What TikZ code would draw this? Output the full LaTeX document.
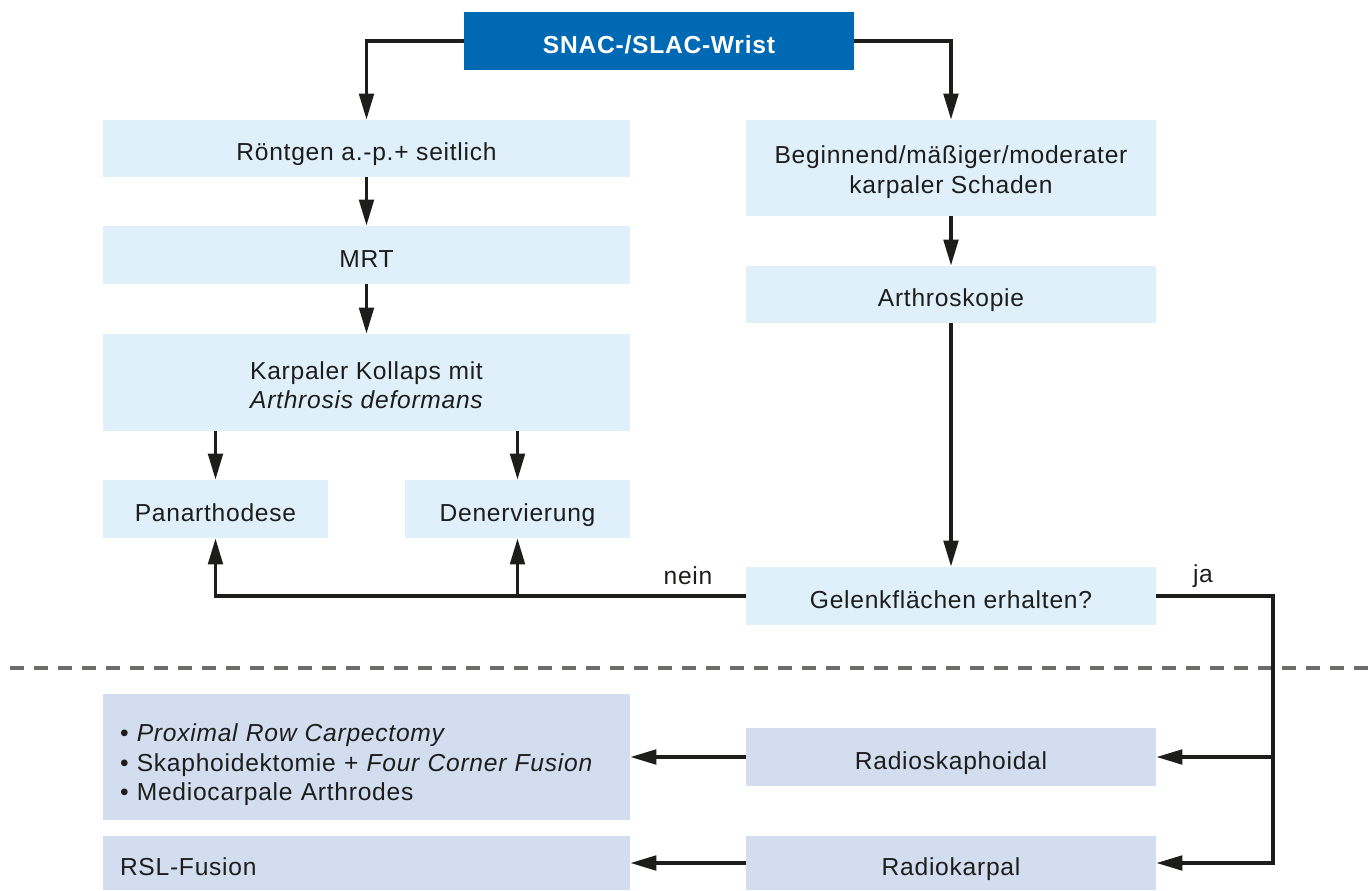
\documentclass[tikz,border=0pt]{standalone}
\usepackage{fontspec}
\setmainfont[LetterSpace=3]{Liberation Sans}
\usetikzlibrary{arrows.meta}
\definecolor{kopfblau}{HTML}{0069B4}
\definecolor{hellblau}{HTML}{E0F0FB}
\definecolor{graublau}{HTML}{D2DDF0}
\definecolor{strich}{HTML}{1D1D1B}
\tikzset{
  box/.style={fill=hellblau, inner sep=0pt, text=strich, align=center, minimum height=1.16cm},
  einzeilig/.style={text height=0.48cm, text depth=0pt},
  unten/.style={box, fill=graublau},
  pfeil/.style={draw=strich, line width=2pt, -{Triangle[length=5.2mm,width=2.9mm]}},
}
\begin{document}
\begin{tikzpicture}[font=\fontsize{14}{16.8}\selectfont, line join=miter]
		\useasboundingbox (0,0) rectangle (27.38,-17.8);
		% Kopf
		\node (top) at (13.18,-0.82) [box, einzeilig, fill=kopfblau, text=white, minimum width=7.8cm]{\bfseries SNAC-/SLAC-Wrist};
		% linke Spalte
		\node (rtg) at (7.33,-2.97) [box, einzeilig, minimum width=10.54cm, minimum height=1.14cm]{R\"ontgen a.-p.+ seitlich};
		\node (mrt) at (7.33,-5.10) [box, einzeilig, minimum width=10.54cm]{MRT};
		\node (kol) at (7.33,-7.65) [box, minimum width=10.54cm, minimum height=1.94cm]{\rule{0pt}{0.46cm}Karpaler Kollaps mit\\\itshape Arthrosis deformans};
		\node (pan) at (4.31,-10.18) [box, einzeilig, minimum width=4.5cm]{Panarthodese};
		\node (den) at (10.35,-10.18) [box, einzeilig, minimum width=4.5cm]{Denervierung};
		% rechte Spalte
		\node (beg) at (19.02,-3.36) [box, minimum width=8.2cm, minimum height=1.92cm]{\rule{0pt}{0.52cm}Beginnend/m\"a\ss iger/moderater\\karpaler Schaden};
		\node (art) at (19.02,-5.89) [box, einzeilig, minimum width=8.2cm, minimum height=1.14cm]{Arthroskopie};
		\node (gel) at (19.02,-11.92) [box, einzeilig, minimum width=8.2cm]{Gelenkfl\"achen erhalten?};
		% Trennlinie
		\draw[color=strich!65, line width=2pt, dash pattern=on 0.28cm off 0.2cm] (0.2,-13.36)--(27.38,-13.36);
		% unterer Teil
		\node (lst) at (7.33,-15.14) [unten, text width=9.86cm, inner xsep=0.34cm, minimum height=2.52cm, align=left]{\rule{0pt}{0.68cm}\textbullet\ \textit{Proximal Row Carpectomy}\\\textbullet\ Skaphoidektomie + \textit{Four Corner Fusion}\\\textbullet\ Mediocarpale Arthrodes};
		\node (rsl) at (7.33,-17.26) [unten, einzeilig, text width=9.86cm, inner xsep=0.34cm, minimum height=1.08cm, align=left]{RSL-Fusion};
		\node (rs) at (19.02,-15.14) [unten, einzeilig, minimum width=8.2cm]{Radioskaphoidal};
		\node (rk) at (19.02,-17.26) [unten, einzeilig, minimum width=8.2cm, minimum height=1.08cm]{Radiokarpal};
		\coordinate (knie) at (25.46,-11.92);
		% Pfeile
		\draw[pfeil] (top.west) -| (rtg.north);
		\draw[pfeil] (top.east) -| (beg.north);
		\draw[pfeil] (rtg) -- (mrt);
		\draw[pfeil] (mrt) -- (kol);
		\draw[pfeil] (kol.south -| pan.north) -- (pan.north);
		\draw[pfeil] (kol.south -| den.north) -- (den.north);
		\draw[pfeil] (beg) -- (art);
		\draw[pfeil] (art) -- (gel);
		\draw[pfeil] (gel.west) -| (pan.south);
		\draw[pfeil] (gel.west -| den.south) -- (den.south);
		\draw[pfeil] (gel.east) -- (knie) |- (rk.east);
		\draw[pfeil] (knie |- rs.east) -- (rs.east);
		\draw[pfeil] (rs.west) -- (lst.east);
		\draw[pfeil] (rk.west) -- (rsl.east);
		\node at (13.76,-11.92) [above=3pt, text=strich]{nein};
		\node at (24.06,-11.92) [above=1pt, text=strich]{ja};
\end{tikzpicture}
\end{document}
